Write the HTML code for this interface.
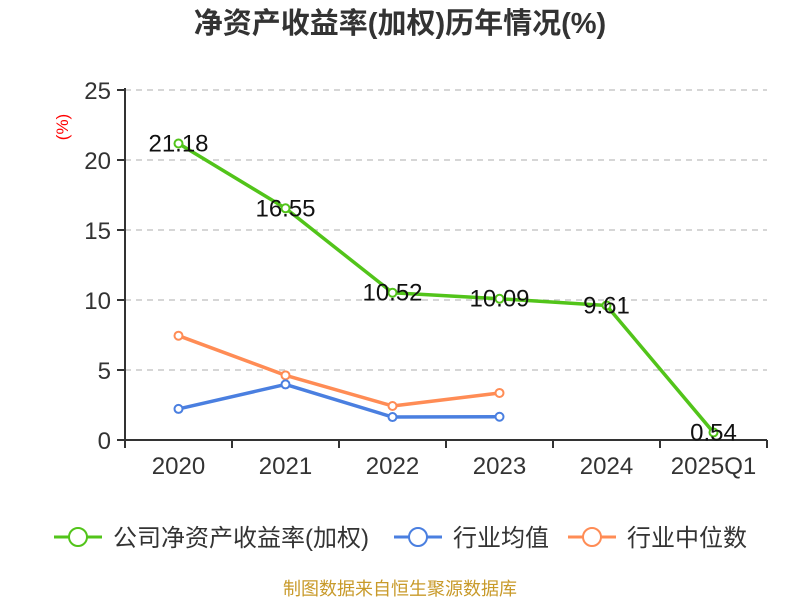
<!DOCTYPE html>
<html><head><meta charset="utf-8"><style>
body{margin:0;background:#fff;width:800px;height:600px;overflow:hidden;font-family:"Liberation Sans","Noto Sans CJK SC",sans-serif}
</style></head><body>
<svg width="800" height="600" xmlns="http://www.w3.org/2000/svg" style="font-family:'Liberation Sans','Noto Sans CJK SC',sans-serif">
<text x="400" y="33" text-anchor="middle" font-size="29" font-weight="bold" fill="#333">净资产收益率(加权)历年情况(%)</text>
<text transform="translate(68,127) rotate(-90)" text-anchor="middle" font-size="17" fill="red">(%)</text>
<g id="grid"></g><g id="axes"></g><g id="series"></g>
<g font-size="24" fill="#333">
<g><line x1="54" y1="537" x2="102" y2="537" stroke="#52c41a" stroke-width="3"/><circle cx="78" cy="537" r="9" fill="#fff" stroke="#52c41a" stroke-width="2"/><text x="113" y="546">公司净资产收益率(加权)</text></g>
<g><line x1="394" y1="537" x2="442" y2="537" stroke="#4a7fe0" stroke-width="3"/><circle cx="418" cy="537" r="9" fill="#fff" stroke="#4a7fe0" stroke-width="2"/><text x="453" y="546">行业均值</text></g>
<g><line x1="568" y1="537" x2="616" y2="537" stroke="#ff8c55" stroke-width="3"/><circle cx="592" cy="537" r="9" fill="#fff" stroke="#ff8c55" stroke-width="2"/><text x="627" y="546">行业中位数</text></g>
</g>
<text x="400" y="595" text-anchor="middle" font-size="18" fill="#c89a2a">制图数据来自恒生聚源数据库</text>
</svg>
<script>
const categories=["2020","2021","2022","2023","2024","2025Q1"];
const companyValues=[21.18,16.55,10.52,10.09,9.61,0.54];
const avgValues=[2.22,3.97,1.64,1.66];
const medianValues=[7.45,4.62,2.43,3.36];
const yTicks=[0,5,10,15,20,25];
const NS="http://www.w3.org/2000/svg";
const x0=125,x1=767,yb=440,yt=90;
const step=(x1-x0)/categories.length;
const xs=i=>x0+step*(i+0.5);
const ys=v=>yb-(v/25)*(yb-yt);
function mk(tag,attrs,parent,text){const e=document.createElementNS(NS,tag);for(const k in attrs)e.setAttribute(k,attrs[k]);if(text!==undefined)e.textContent=text;document.getElementById(parent).appendChild(e);return e;}
yTicks.forEach(t=>{
 if(t>0){const g=mk('line',{x1:x0,x2:x1,y1:ys(t),y2:ys(t),stroke:'#c8c8c8','stroke-dasharray':'6,5','stroke-width':1.5},'grid');
 
 }
 const tk=mk('line',{x1:x0-8,x2:x0,y1:ys(t),y2:ys(t),stroke:'#333','stroke-width':2},'axes');
 
 
 const l=mk('text',{x:x0-14,y:ys(t)+9,'text-anchor':'end','font-size':24,fill:'#333'},'axes',String(t));
 
 
});
const ya=mk('line',{x1:x0,x2:x0,y1:yt-2,y2:yb,stroke:'#333','stroke-width':2},'axes');


const xa=mk('line',{x1:x0,x2:x1,y1:yb,y2:yb,stroke:'#333','stroke-width':2},'axes');


for(let i=0;i<=categories.length;i++){const t=mk('line',{x1:x0+step*i,x2:x0+step*i,y1:yb,y2:yb+8,stroke:'#333','stroke-width':2},'axes');
 
 }
categories.forEach((c,i)=>{const l=mk('text',{x:xs(i),y:yb+34,'text-anchor':'middle','font-size':24,fill:'#333'},'axes',c);
 
 });
function series(vals,color,name,labels){
 const p=mk('polyline',{points:vals.map((v,i)=>xs(i)+','+ys(v)).join(' '),fill:'none',stroke:color,'stroke-width':3.5,'stroke-linejoin':'round'},'series');
 
 
 vals.forEach((v,i)=>{const c=mk('circle',{cx:xs(i),cy:ys(v),r:4,fill:'#fff',stroke:color,'stroke-width':2},'series');
  
  
  if(labels){const t=mk('text',{x:xs(i),y:ys(v)+8,'text-anchor':'middle','font-size':24,fill:'#111'},'series',v.toFixed(2));
   
   }
 });
}
series(medianValues,'#ff8c55','industry-median',false);
series(avgValues,'#4a7fe0','industry-avg',false);
series(companyValues,'#52c41a','company',true);
</script>
</body></html>
